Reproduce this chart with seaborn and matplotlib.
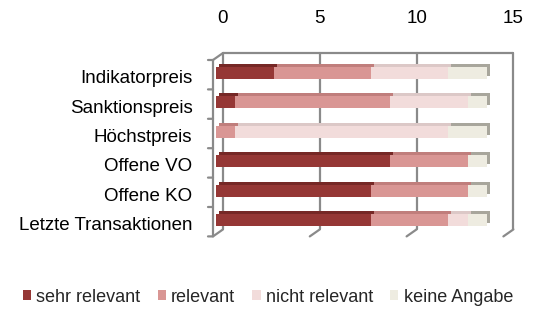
import pandas as pd
import seaborn as sns
import matplotlib.pyplot as plt
from matplotlib.patches import Patch, ConnectionPatch
from matplotlib.transforms import offset_copy, ScaledTranslation

# data
categories = ['Indikatorpreis', 'Sanktionspreis', 'Höchstpreis',
              'Offene VO', 'Offene KO', 'Letzte Transaktionen']
series = ['sehr relevant', 'relevant', 'nicht relevant', 'keine Angabe']
sehr_relevant = [3, 1, 0, 9, 8, 8]
relevant = [5, 8, 1, 4, 5, 4]
nicht_relevant = [4, 4, 11, 0, 0, 1]
keine_angabe = [2, 1, 2, 1, 1, 1]
x_ticks = [0, 5, 10, 15]

colors = ['#953735', '#d99694', '#f2dcdb', '#eeece1']
top_colors = ['#762826', '#c07e7c', '#dcc8c7', '#a8a69c']
grid_color = '#8a8a8a'

sns.set_theme(style='white')
plt.rcParams['font.family'] = ['Liberation Sans', 'DejaVu Sans']
fs = 13.5

df = pd.DataFrame({'Kategorie': categories, 'sehr relevant': sehr_relevant,
                   'relevant': relevant, 'nicht relevant': nicht_relevant,
                   'keine Angabe': keine_angabe})
cum = df[series].cumsum(axis=1)
starts = cum - df[series]

fig = plt.figure(figsize=(5.36, 3.10), dpi=100)
ax = fig.add_axes([216 / 536, 1 - 234.7 / 310, 290.4 / 536, 176.4 / 310])

bar_h = 0.41

# 3D depth of the bars: a shifted, darker copy behind the front faces
depth = offset_copy(ax.transData, fig=fig, x=3, y=3, units='dots')
for s, c in zip(series, top_colors):
    ax.barh(range(len(categories)), df[s], left=starts[s], height=bar_h,
            color=c, transform=depth, zorder=1, linewidth=0)

# front faces, stacked from the total down
for s, c in zip(series[::-1], colors[::-1]):
    sns.barplot(x=cum[s], y=df['Kategorie'], color=c, saturation=1,
                width=bar_h, errorbar=None, orient='h', ax=ax, zorder=2,
                linewidth=0)

ax.set_xlim(0, 15)
ax.set_ylim(5.5, -0.5)
ax.set_xlabel('')
ax.set_ylabel('')
for sp in ax.spines.values():
    sp.set_visible(False)

# walls of the 3D box
back = offset_copy(ax.transData, fig=fig, x=7, y=5.3, units='dots')
front = offset_copy(ax.transData, fig=fig, x=-3, y=-1.7, units='dots')
tick_out = offset_copy(ax.transData, fig=fig, x=-8, y=-1.7, units='dots')
lw = 1.6
for x in x_ticks:
    ax.plot([x, x], [-0.5, 5.5], color=grid_color, lw=lw, transform=back,
            clip_on=False, zorder=0.5)
    ax.add_artist(ConnectionPatch((x, 5.5), (x, 5.5), coordsA=back,
                                  coordsB=front, color=grid_color, lw=lw,
                                  zorder=0.5))
ax.plot([0, 15], [-0.5, -0.5], color=grid_color, lw=lw, transform=back,
        clip_on=False, zorder=0.5)
ax.plot([0, 0], [-0.5, 5.5], color=grid_color, lw=lw, transform=front,
        clip_on=False, zorder=0.5)
ax.add_artist(ConnectionPatch((0, -0.5), (0, -0.5), coordsA=back,
                              coordsB=front, color=grid_color, lw=lw,
                              zorder=0.5))
for i in range(len(categories) + 1):
    y = i - 0.5
    ax.add_artist(ConnectionPatch((0, y), (0, y), coordsA=tick_out,
                                  coordsB=front, color=grid_color, lw=lw,
                                  zorder=0.5))

# ticks and labels
ax.xaxis.tick_top()
ax.set_xticks(x_ticks)
ax.set_xticklabels([str(t) for t in x_ticks])
ax.tick_params(axis='x', length=0, pad=18.5, labelsize=fs, colors='black')
ax.tick_params(axis='y', length=0, pad=17, labelsize=fs, colors='black')
for lab in ax.get_xticklabels():
    lab.set_transform(lab.get_transform() +
                      ScaledTranslation(7 / 100, 5.3 / 100, fig.dpi_scale_trans))
for lab in ax.get_yticklabels():
    lab.set_transform(lab.get_transform() +
                      ScaledTranslation(0, -3.7 / 100, fig.dpi_scale_trans))

handles = [Patch(facecolor=c, edgecolor='none', label=s)
           for s, c in zip(series, colors)]
fig.legend(handles=handles, loc='center', ncol=4, frameon=False,
           bbox_to_anchor=(0.5, 1 - 297 / 310), fontsize=13.0,
           handlelength=0.45, handleheight=0.45, handletextpad=0.3,
           columnspacing=0.95, borderpad=0, borderaxespad=0)

fig.savefig('out.png', dpi=100, facecolor='white')
